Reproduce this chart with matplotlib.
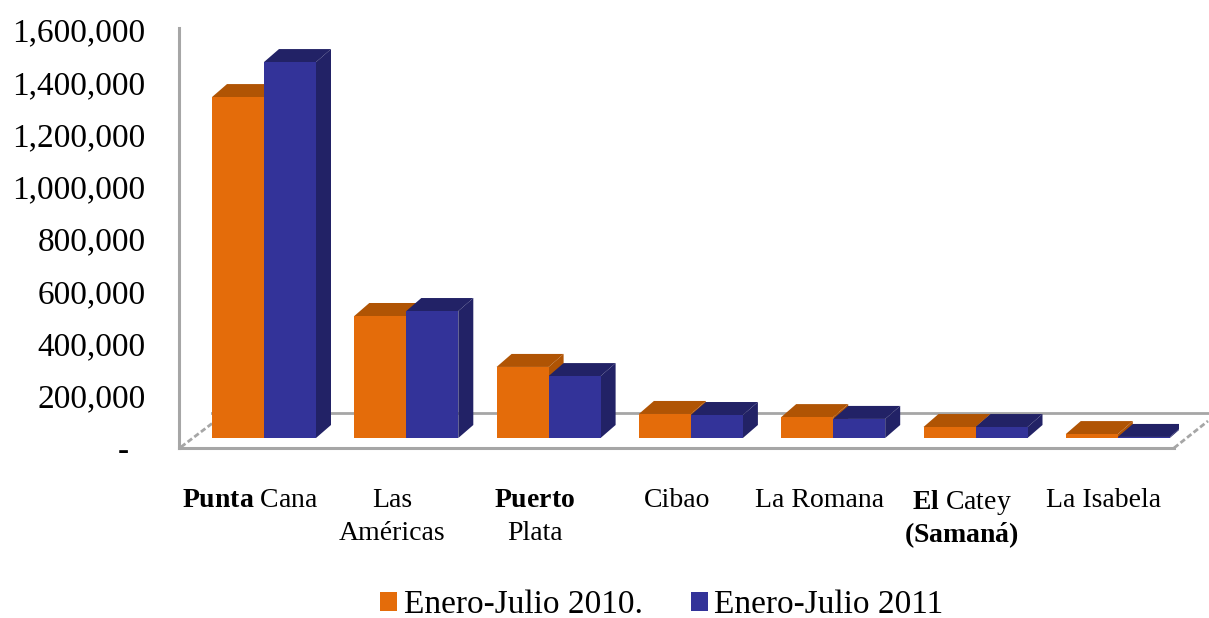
import numpy as np
import matplotlib
matplotlib.use("Agg")
import matplotlib.pyplot as plt
from matplotlib.lines import Line2D

plt.rcParams['font.family'] = ['Liberation Serif', 'DejaVu Serif']
plt.rcParams['mathtext.fontset'] = 'custom'
plt.rcParams['mathtext.rm'] = 'Liberation Serif'
plt.rcParams['mathtext.bf'] = 'Liberation Serif:bold'

# values
categories = ['$\\mathbf{Punta}$ Cana', 'Las\nAméricas', '$\\mathbf{Puerto}$\nPlata', 'Cibao',
              'La Romana', '$\\mathbf{El}$ Catey\n$\\mathbf{(Saman\\acute{a})}$', 'La Isabela']
enero_julio_2010 = [1305000, 467000, 272000, 92000, 80000, 42000, 15000]
enero_julio_2011 = [1439000, 486000, 237000, 88000, 73000, 42000, 4000]
ytick_values = [0, 200000, 400000, 600000, 800000, 1000000, 1200000, 1400000, 1600000]

W, H = 1209, 618
ORANGE, ORANGE_DK = '#e46c0a', '#b05404'
BLUE, BLUE_DK = '#333399', '#222266'
GREY = '#a6a6a6'
X0, STEP = 264, 142.3


def px(x, y):
    return x / W, 1 - y / H


fig = plt.figure(figsize=(W / 100, H / 100), dpi=100, facecolor='white')
# axes box: left wall at x=179, floor front edge at y=448
ax = fig.add_axes([179 / W, 1 - 448 / H, 1000 / W, 420 / H])
px_per_val = 52.25 / 200000
ax.set_ylim(0, 420 / px_per_val)
ax.set_xlim((179 - X0) / STEP, (1179 - X0) / STEP)

# 3d look: bars stand 10px above the front edge, depth 15px across and 13px up
floor = 10 / px_per_val
depth_x = 15 / STEP
depth_y = 13 / px_per_val
bar_w = 52 / STEP
x = np.arange(len(categories))


def depth_faces(left, val, col, z):
    right = left + bar_w
    top = floor + val
    ax.fill([left, left + depth_x, right + depth_x, right], [top, top + depth_y, top + depth_y, top],
            color=col, lw=0, zorder=z)
    ax.fill([right, right + depth_x, right + depth_x, right], [floor, floor + depth_y, top + depth_y, top],
            color=col, lw=0, zorder=z)


for i in range(len(x)):
    depth_faces(x[i] - bar_w, enero_julio_2010[i], ORANGE_DK, 2)
    depth_faces(x[i], enero_julio_2011[i], BLUE_DK, 2.5)

b1 = ax.bar(x - bar_w, enero_julio_2010, bar_w, bottom=floor, align='edge', color=ORANGE, zorder=3,
            label='Enero-Julio 2010.')
b2 = ax.bar(x, enero_julio_2011, bar_w, bottom=floor, align='edge', color=BLUE, zorder=3,
            label='Enero-Julio 2011')

for s in ['top', 'right']:
    ax.spines[s].set_visible(False)
for s in ['left', 'bottom']:
    ax.spines[s].set_color(GREY)
    ax.spines[s].set_linewidth(2.2)
    ax.spines[s].set_zorder(1)
ax.spines['bottom'].set_bounds(ax.get_xlim()[0], (1174 - X0) / STEP)

# floor back edge and the two slanted sides
floor_lines = [((212, 413), (1208, 413), '-'), ((181, 447), (214, 422), (0, (2, 1))),
               ((1174, 448), (1208, 421), (0, (2, 1)))]
for a, b, ls in floor_lines:
    xa, ya = px(*a)
    xb, yb = px(*b)
    fig.add_artist(Line2D([xa, xb], [ya, yb], color=GREY, lw=2, ls=ls, zorder=0,
                          transform=fig.transFigure))
ax.set_zorder(2)
ax.patch.set_alpha(0)

ax.set_yticks(ytick_values)
ax.set_yticklabels(['-  '] + [f'{v:,}' for v in ytick_values[1:]], fontsize=24, color='black')
ax.tick_params(axis='y', length=0, pad=24)
ax.set_xticks(x - 14 / STEP)
ax.set_xticklabels(categories, fontsize=20, color='black')
ax.tick_params(axis='x', length=0, pad=29)
for lab in ax.get_xticklabels():
    # the line with mathtext on top is already taller
    lab.set_linespacing(1.15 if 'Catey' in lab.get_text() else 1.4)

ax.legend(handles=[b1, b2], loc='center', bbox_to_anchor=px(662, 605), bbox_transform=fig.transFigure,
          ncol=2, frameon=False, fontsize=24, handlelength=0.5, handleheight=0.5,
          handletextpad=0.2, columnspacing=1.45, labelcolor='black')

fig.savefig('out.png', dpi=100, facecolor='white')
